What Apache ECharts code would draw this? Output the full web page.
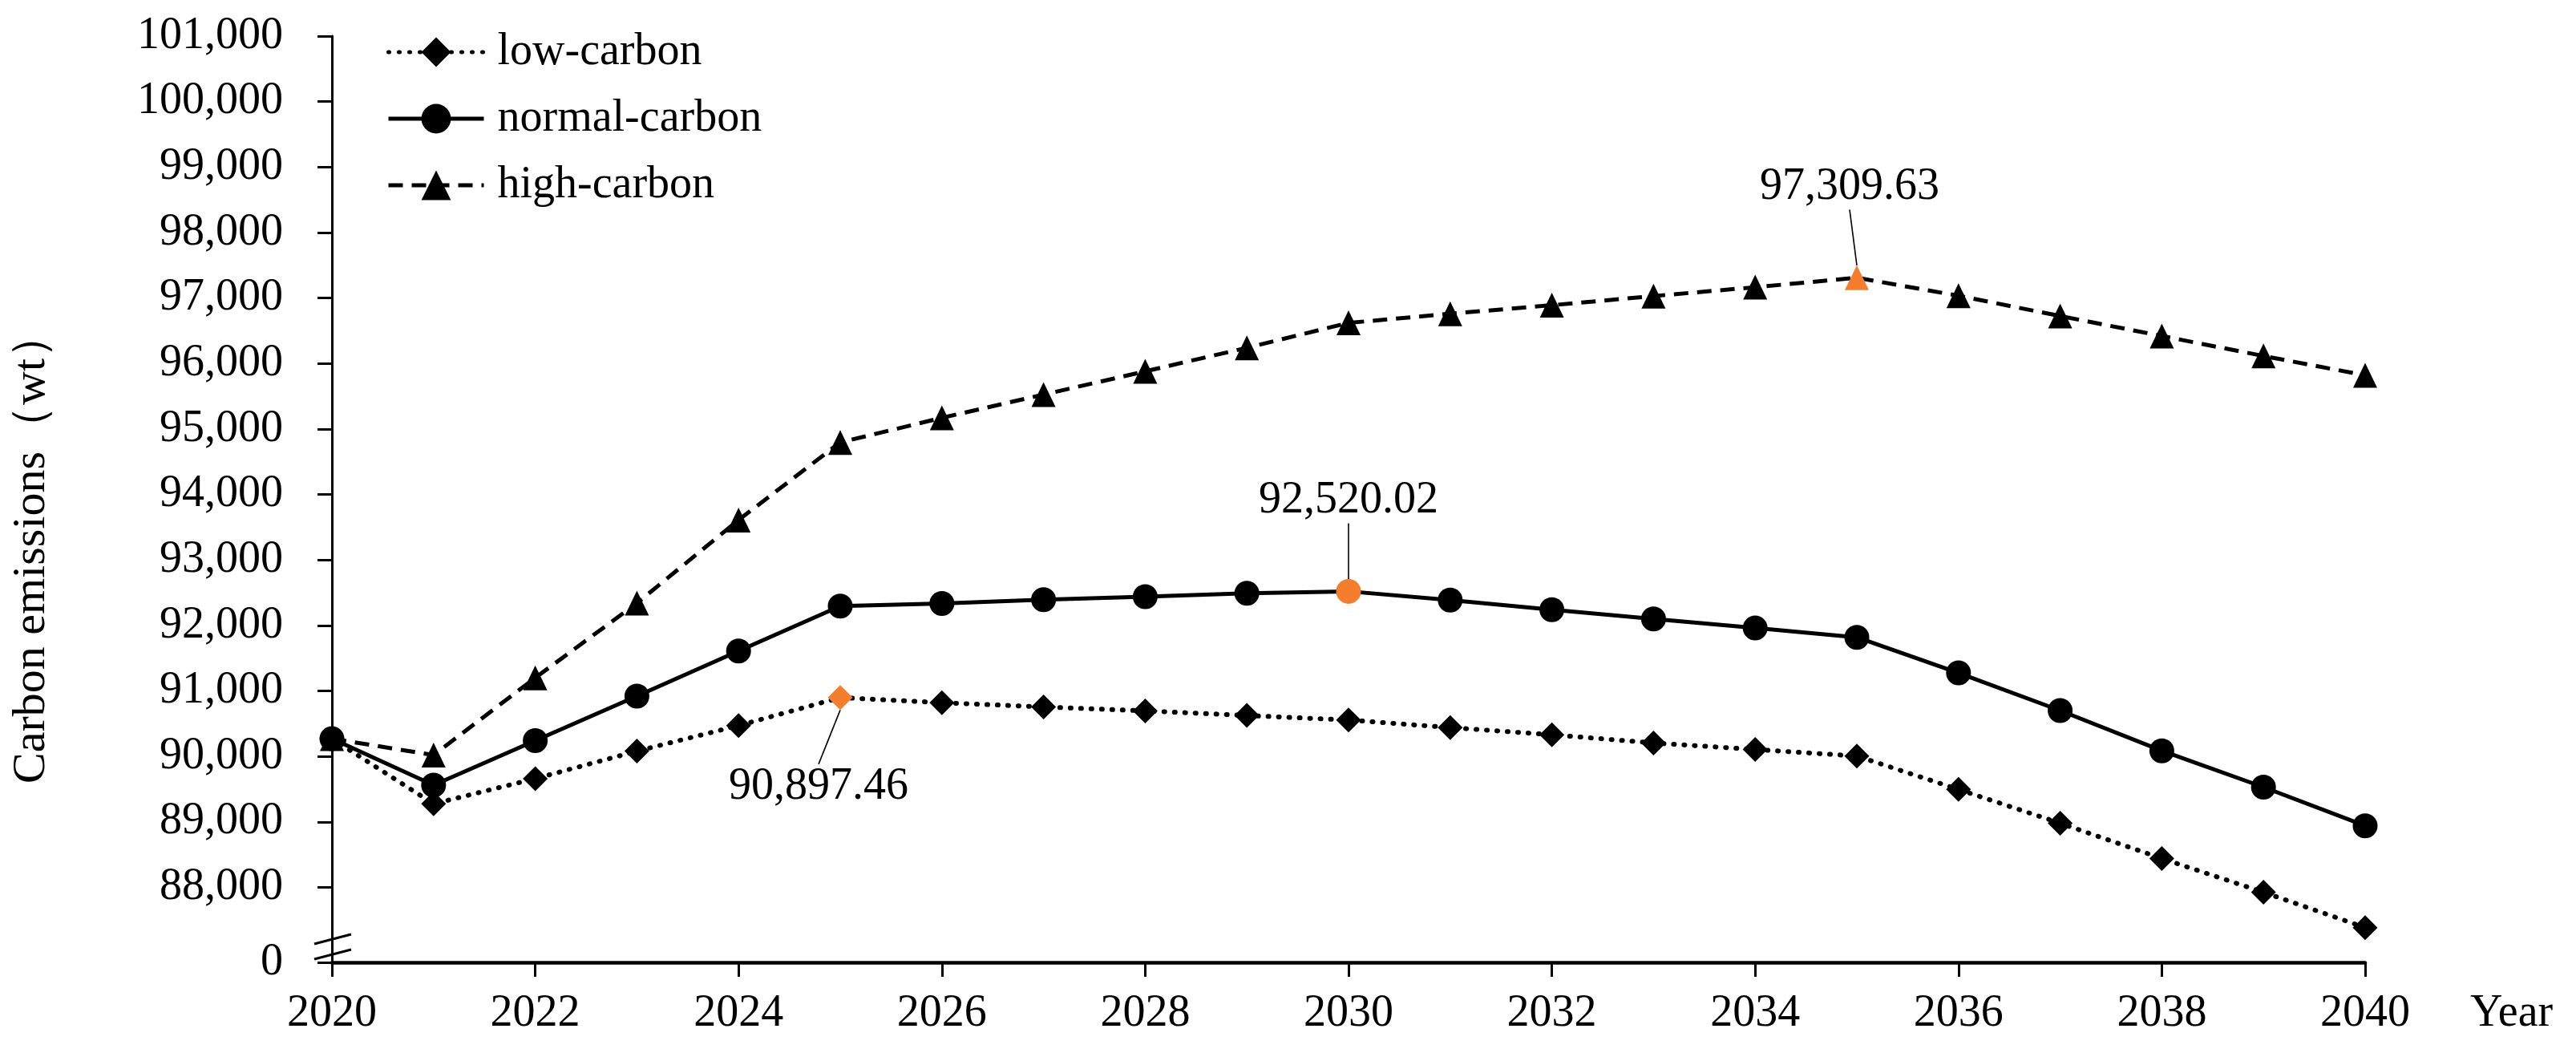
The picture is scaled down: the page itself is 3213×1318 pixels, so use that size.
<!DOCTYPE html>
<html>
<head>
<meta charset="utf-8">
<script src="https://cdn.jsdelivr.net/npm/echarts@6/dist/echarts.min.js"></script>
<style>
html,body{margin:0;padding:0;background:#fff;}
#c{width:3213px;height:1318px;}
</style>
</head>
<body>
<div id="c"></div>
<script>
// ---------- data ----------
const years = ['2020','2021','2022','2023','2024','2025','2026','2027','2028','2029','2030',
               '2031','2032','2033','2034','2035','2036','2037','2038','2039','2040'];
const lowCarbon = [90270, 89275, 89660, 90080, 90470, 90897.46, 90820, 90755, 90695, 90625, 90555,
                   90440, 90330, 90205, 90105, 90005, 89495, 88980, 88440, 87925, 87385];
const normalCarbon = [90270, 89560, 90240, 90920, 91610, 92295, 92335, 92392, 92438, 92490, 92520.02,
                      92386, 92240, 92100, 91960, 91818, 91275, 90700, 90085, 89530, 88940];
const highCarbon = [90270, 90020, 91200, 92340, 93610, 94795, 95170, 95525, 95880, 96240, 96620,
                    96760, 96890, 97030, 97165, 97309.63, 97035, 96725, 96420, 96115, 95820];
const seriesNames = ['low-carbon', 'normal-carbon', 'high-carbon'];
const peakIndex = [5, 10, 15];
const yTickValues = [88000, 89000, 90000, 91000, 92000, 93000, 94000, 95000, 96000, 97000,
                     98000, 99000, 100000, 101000];
const yBreakValue = 86854;   // axis bottom, labelled "0" (broken axis)
const yMax = 101000;

// ---------- styles ----------
const FONT = 'Liberation Serif';
const ORANGE = '#F47E2C';
const BLACK = '#000';

function fmt2(v) {
  return v.toLocaleString('en-US', {minimumFractionDigits: 2, maximumFractionDigits: 2});
}

function buildData(values, peak) {
  return values.map((v, i) => {
    if (i !== peak) return v;
    return {
      value: v,
      itemStyle: {color: ORANGE},
      label: {
        show: true,
        position: 'inside',
        formatter: p => fmt2(p.value),
        fontFamily: FONT, fontSize: 56, color: BLACK,
        padding: [6, 4, 6, 4]
      }
    };
  });
}

const labelShift = [
  {dx: -27, dy: 111},
  {dx: 0, dy: -113},
  {dx: -9, dy: -113}
];

const symbols = ['diamond', 'circle', 'triangle'];
const symbolSizes = [31, 31, [30, 31]];
const lineTypes = [[1, 12], 'solid', [18, 11]];
const lineWidths = [6, 5, 5];
const allValues = [lowCarbon, normalCarbon, highCarbon];

const series = allValues.map((vals, k) => ({
  name: seriesNames[k],
  type: 'line',
  data: buildData(vals, peakIndex[k]),
  symbol: symbols[k],
  symbolSize: symbolSizes[k],
  showSymbol: true,
  showAllSymbol: true,
  itemStyle: {color: BLACK},
  lineStyle: {color: BLACK, width: lineWidths[k], type: lineTypes[k], cap: k === 0 ? 'round' : 'butt'},
  label: {show: false},
  labelLayout: () => labelShift[k],
  labelLine: {show: true, lineStyle: {color: BLACK, width: 1.6}},
  emphasis: {disabled: true},
  z: 3 - k
}));

const yLabelValues = [yBreakValue].concat(yTickValues);

const chart = echarts.init(document.getElementById('c'), null, {renderer: 'canvas'});
chart.setOption({
  backgroundColor: '#fff',
  animation: false,
  grid: {left: 414, right: 263, top: 45, bottom: 118, containLabel: false},
  legend: {
    orient: 'vertical',
    left: 477, top: 32,
    itemWidth: 119, itemHeight: 46, itemGap: 27,
    lineStyle: {width: 5},
    textStyle: {fontFamily: FONT, fontSize: 56, color: BLACK, padding: [0, 0, 0, 12]},
    data: seriesNames
  },
  xAxis: {
    type: 'category',
    data: years,
    boundaryGap: false,
    axisLine: {onZero: false, lineStyle: {color: BLACK, width: 4.5}},
    axisTick: {interval: 1, length: 18, lineStyle: {color: BLACK, width: 3}},
    axisLabel: {interval: 1, margin: 36, fontFamily: FONT, fontSize: 56, color: BLACK},
    name: 'Year',
    nameLocation: 'end',
    nameGap: 131,
    nameTextStyle: {fontFamily: FONT, fontSize: 56, color: BLACK, align: 'left',
                    verticalAlign: 'top', padding: [36, 0, 0, 0]}
  },
  yAxis: {
    type: 'value',
    min: yBreakValue,
    max: yMax,
    splitLine: {show: false},
    axisLine: {show: true, lineStyle: {color: BLACK, width: 3}},
    axisTick: {show: true, length: 18, customValues: yLabelValues, lineStyle: {color: BLACK, width: 3}},
    axisLabel: {
      customValues: yLabelValues,
      margin: 61,
      fontFamily: FONT, fontSize: 56, color: BLACK,
      formatter: v => (Math.abs(v - yBreakValue) < 1 ? '0' : Math.round(v).toLocaleString('en-US'))
    },
    name: 'Carbon emissions（wt）',
    nameLocation: 'middle',
    nameGap: 345,
    nameTextStyle: {fontFamily: FONT, fontSize: 58, color: BLACK, padding: [0, 121, 0, 0]}
  },
  graphic: [
    {type: 'line', shape: {x1: 392, y1: 1177, x2: 438, y2: 1165}, style: {stroke: BLACK, lineWidth: 3}, z: 10},
    {type: 'line', shape: {x1: 392, y1: 1196, x2: 438, y2: 1184}, style: {stroke: BLACK, lineWidth: 3}, z: 10}
  ],
  series: series
});
</script>
</body>
</html>
